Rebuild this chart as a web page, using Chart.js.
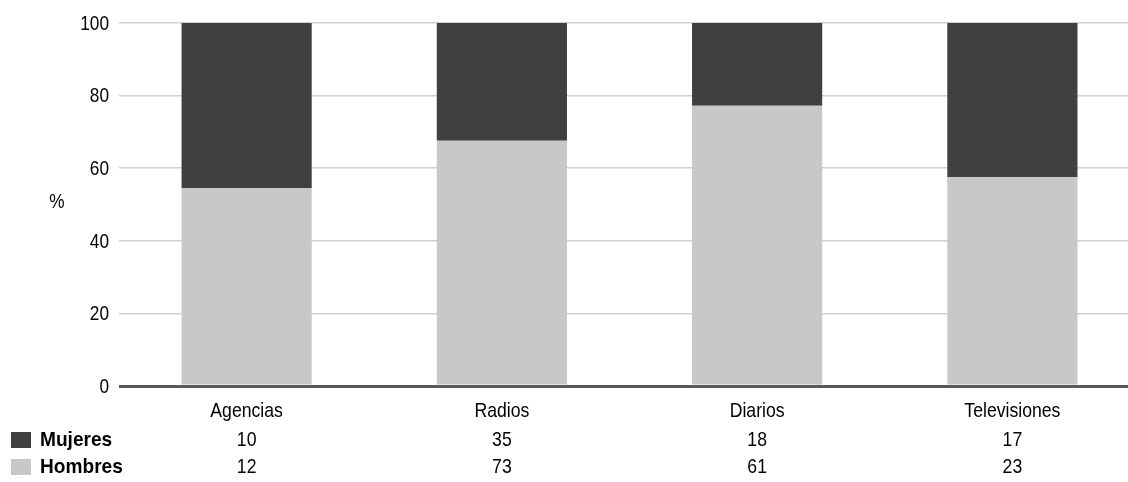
<!DOCTYPE html>
<html>
<head>
<meta charset="utf-8">
<script src="https://cdn.jsdelivr.net/npm/chart.js@4/dist/chart.umd.min.js"></script>
<style>
  html, body { margin: 0; padding: 0; overflow: hidden; background: #fff; }
  #wrap { width: 1140px; height: 482px; position: relative; }
</style>
</head>
<body>
<div id="wrap"><canvas id="chart"></canvas></div>
<script>
const categories = ["Agencias", "Radios", "Diarios", "Televisiones"];
const mujeres = [10, 35, 18, 17];
const hombres = [12, 73, 61, 23];
const yTicks = [0, 20, 40, 60, 80, 100];

const darkColor = "#404040";
const lightColor = "#c8c8c8";
const fontFamily = "'Liberation Sans', Arial, sans-serif";

// porcentajes de cada grupo sobre el total de la categoria
const hombresPct = hombres.map((h, i) => (h / (h + mujeres[i])) * 100);
const mujeresPct = mujeres.map((m, i) => (m / (hombres[i] + m)) * 100);

// la fuente original es estrecha: se comprime en horizontal
function narrowText(ctx, text, x, y, align, k) {
  ctx.save();
  ctx.translate(x, y);
  ctx.scale(k, 1);
  ctx.textAlign = align;
  ctx.fillText(text, 0, 0);
  ctx.restore();
}

// etiquetas, tabla de datos y leyenda
const tablePlugin = {
  id: "dataTable",
  afterDraw(chart) {
    const ctx = chart.ctx;
    const x = chart.scales.x;
    const y = chart.scales.y;
    ctx.save();
    ctx.fillStyle = "#000";
    ctx.textBaseline = "middle";
    ctx.font = "21px " + fontFamily;
    yTicks.forEach((v) => {
      narrowText(ctx, String(v), 109, y.getPixelForValue(v) + 1, "right", 0.82);
    });
    narrowText(ctx, "%", 57, 202, "center", 0.82);
    categories.forEach((c, i) => {
      const px = x.getPixelForValue(i);
      narrowText(ctx, c, px, 411, "center", 0.84);
      narrowText(ctx, String(mujeres[i]), px, 440, "center", 0.84);
      narrowText(ctx, String(hombres[i]), px, 467, "center", 0.84);
    });
    ctx.fillStyle = darkColor;
    ctx.fillRect(11, 432, 20, 16);
    ctx.fillStyle = lightColor;
    ctx.fillRect(11, 459, 20, 16);
    ctx.fillStyle = "#000";
    ctx.font = "bold 21px " + fontFamily;
    narrowText(ctx, "Mujeres", 40, 440, "left", 0.91);
    narrowText(ctx, "Hombres", 40, 467, "left", 0.91);
    ctx.restore();
  },
};

new Chart(document.getElementById("chart").getContext("2d"), {
  type: "bar",
  data: {
    labels: categories,
    datasets: [
      {
        label: "Hombres",
        data: hombresPct,
        backgroundColor: lightColor,
        borderWidth: 0,
      },
      {
        label: "Mujeres",
        data: mujeresPct,
        backgroundColor: darkColor,
        borderWidth: 0,
      },
    ],
  },
  options: {
    responsive: true,
    maintainAspectRatio: false,
    animation: false,
    events: [],
    layout: { padding: { top: 23, left: 0, right: 0, bottom: 0 } },
    datasets: {
      bar: { categoryPercentage: 1, barPercentage: 0.51 },
    },
    scales: {
      x: {
        stacked: true,
        grid: { display: false },
        border: { display: false },
        ticks: { display: false },
        afterFit: (scale) => {
          scale.height = 96;
        },
      },
      y: {
        stacked: true,
        min: 0,
        max: 100,
        afterBuildTicks: (scale) => {
          scale.ticks = yTicks.map((v) => ({ value: v }));
        },
        grid: {
          drawTicks: false,
          color: (c) => (c.tick && c.tick.value === 0 ? "#5a5a5a" : "#d0d0d0"),
          lineWidth: (c) => (c.tick && c.tick.value === 0 ? 3 : 1.5),
        },
        border: { display: false },
        ticks: { display: false },
        afterFit: (scale) => {
          scale.width = 119;
        },
      },
    },
    plugins: {
      legend: { display: false },
      tooltip: { enabled: false },
    },
  },
  plugins: [tablePlugin],
});
</script>
</body>
</html>
